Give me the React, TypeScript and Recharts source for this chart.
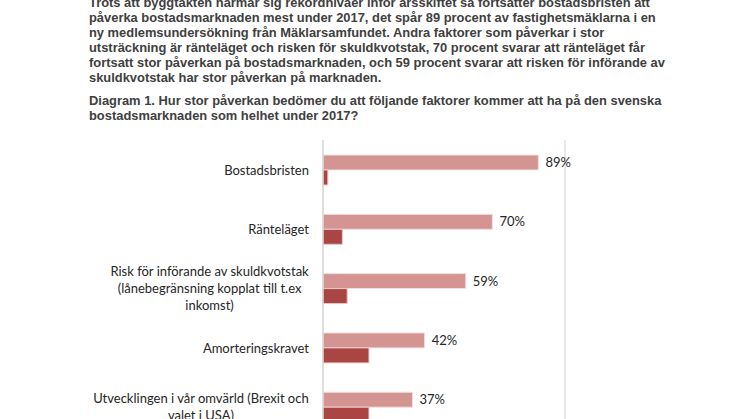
import React from "react";
import { BarChart, Bar, XAxis, YAxis, CartesianGrid, LabelList } from "recharts";

// Text above the chart, line by line as in the source
const introLines = [
  "Trots att byggtakten närmar sig rekordnivåer inför årsskiftet så fortsätter bostadsbristen att",
  "påverka bostadsmarknaden mest under 2017, det spår 89 procent av fastighetsmäklarna i en",
  "ny medlemsundersökning från Mäklarsamfundet. Andra faktorer som påverkar i stor",
  "utsträckning är ränteläget och risken för skuldkvotstak, 70 procent svarar att ränteläget får",
  "fortsatt stor påverkan på bostadsmarknaden, och 59 procent svarar att risken för införande av",
  "skuldkvotstak har stor påverkan på marknaden.",
];

const titleLines = [
  "Diagram 1. Hur stor påverkan bedömer du att följande faktorer kommer att ha på den svenska",
  "bostadsmarknaden som helhet under 2017?",
];

const categories = [
  "Bostadsbristen",
  "Ränteläget",
  "Risk för införande av skuldkvotstak\n(lånebegränsning kopplat till t.ex\ninkomst)",
  "Amorteringskravet",
  "Utvecklingen i vår omvärld (Brexit och\nvalet i USA)",
];
const storPaverkan = [89, 70, 59, 42, 37];
const litenPaverkan = [2, 8, 10, 19, 19];
const xTicks = [0, 20, 40, 60, 80, 100];

const data = categories.map((name, i) => ({
  name,
  stor: storPaverkan[i],
  liten: litenPaverkan[i],
}));

const LABEL_FONT = "13px Lato";
let ctx: CanvasRenderingContext2D | null = null;
function measure(text: string) {
  if (!ctx) ctx = document.createElement("canvas").getContext("2d");
  if (!ctx) return text.length * 6;
  ctx.font = LABEL_FONT;
  return ctx.measureText(text).width;
}

// eslint-disable-next-line @typescript-eslint/no-explicit-any
function CategoryTick({ x, y, payload }: any) {
  const lines: string[] = String(payload.value).split("\n");
  const block = Math.max(...lines.map(measure));
  const cx = x - block / 2;
  const lh = 17;
  const y0 = y - ((lines.length - 1) * lh) / 2;
  return (
    <g>
      {lines.map((l, i) => (
        <text
          key={i}
          x={cx}
          y={y0 + i * lh}
          textAnchor="middle"
          dominantBaseline="central"
          fontFamily="Lato"
          fontSize={13}
          fill="#262626"
        >
          {l}
        </text>
      ))}
    </g>
  );
}

export default function App() {
  return (
    <div style={{ position: "absolute", left: 0, top: 0, width: 746, height: 419, overflow: "hidden", background: "#fff" }}>
      <div
        style={{
          position: "absolute",
          left: 89,
          top: -5,
          fontFamily: "'Liberation Sans', Arial, sans-serif",
          fontWeight: "bold",
          fontSize: 12.9,
          lineHeight: "15px",
          color: "#404040",
          whiteSpace: "nowrap",
        }}
      >
        {introLines.map((l, i) => (
          <div key={i}>{l}</div>
        ))}
        <div style={{ height: 8 }} />
        {titleLines.map((l, i) => (
          <div key={i}>{l}</div>
        ))}
      </div>
      <div style={{ position: "absolute", left: 0, top: 130 }}>
        <BarChart
          width={746}
          height={330}
          data={data}
          layout="vertical"
          margin={{ top: 10, right: 181, bottom: 23.5, left: 0 }}
          barSize={15}
          barGap={0}
        >
          <CartesianGrid horizontal={false} stroke="#D9D9D9" strokeWidth={1.2} />
          <XAxis
            type="number"
            domain={[0, 100]}
            ticks={xTicks}
            tick={false}
            axisLine={false}
            tickLine={false}
            height={0}
          />
          <YAxis
            type="category"
            dataKey="name"
            width={323}
            tick={<CategoryTick />}
            tickSize={0}
            tickMargin={14}
            axisLine={{ stroke: "#D9D9D9", strokeWidth: 1.2 }}
            tickLine={false}
            interval={0}
          />
          <Bar dataKey="stor" name="Stor påverkan" fill="#D39492" stroke="#F4E1E0" strokeWidth={1} isAnimationActive={false}>
            <LabelList
              dataKey="stor"
              position="right"
              offset={7}
              formatter={(v: number) => `${v}%`}
              style={{ fontFamily: "Lato", fontSize: 13, fill: "#262626" }}
            />
          </Bar>
          <Bar dataKey="liten" name="Liten påverkan" fill="#A94543" stroke="#E8C9C8" strokeWidth={1} isAnimationActive={false} />
        </BarChart>
      </div>
    </div>
  );
}
